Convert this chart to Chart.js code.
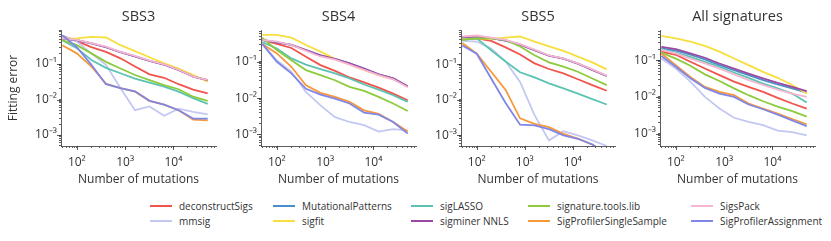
<!DOCTYPE html>
<html>
<head>
<meta charset="utf-8">
<script src="https://cdn.jsdelivr.net/npm/chart.js@4.4.1/dist/chart.umd.min.js"></script>
<style>
  body { margin: 0; background: #fff; }
  #wrap { position: relative; width: 831px; height: 241px; font-family: 'Open Sans', sans-serif; color: #333; }
  canvas { position: absolute; top: 0; }
  .lg-line { position: absolute; width: 22px; height: 1.6px; }
  .lg-text { position: absolute; font-size: 10px; line-height: 14px; white-space: nowrap; }
</style>
</head>
<body>
<div id="wrap"></div>
<script>
// number of mutations per sample (x values)
const mutations = [50, 100, 200, 400, 800, 1600, 3200, 6400, 12800, 25600, 51200];

const methods = ['deconstructSigs', 'mmsig', 'MutationalPatterns', 'sigfit', 'sigLASSO',
  'sigminer NNLS', 'signature.tools.lib', 'SigProfilerSingleSample', 'SigsPack', 'SigProfilerAssignment'];

const panelTitles = ['SBS3', 'SBS4', 'SBS5', 'All signatures'];

// fitting error, one row per method (same order as methods)
const sbs3Error = [
  [0.62, 0.44, 0.30, 0.22, 0.145, 0.085, 0.051, 0.041, 0.027, 0.019, 0.015],
  [0.62, 0.43, 0.20, 0.095, 0.021, 0.005, 0.0064, 0.0035, 0.0055, 0.0045, 0.0038],
  [0.52, 0.47, 0.38, 0.30, 0.215, 0.165, 0.122, 0.096, 0.068, 0.044, 0.035],
  [0.51, 0.53, 0.58, 0.56, 0.34, 0.23, 0.155, 0.104, 0.074, 0.049, 0.032],
  [0.47, 0.28, 0.13, 0.078, 0.055, 0.039, 0.030, 0.023, 0.0166, 0.011, 0.0075],
  [0.52, 0.47, 0.38, 0.30, 0.215, 0.165, 0.122, 0.096, 0.068, 0.044, 0.035],
  [0.47, 0.34, 0.20, 0.115, 0.075, 0.049, 0.035, 0.0255, 0.0195, 0.012, 0.0092],
  [0.34, 0.20, 0.085, 0.028, 0.021, 0.0166, 0.0092, 0.0072, 0.005, 0.0027, 0.0026],
  [0.53, 0.48, 0.39, 0.31, 0.22, 0.17, 0.125, 0.098, 0.069, 0.044, 0.036],
  [0.65, 0.30, 0.095, 0.027, 0.021, 0.017, 0.0092, 0.0072, 0.005, 0.0029, 0.0029]
];

const sbs4Error = [
  [0.40, 0.31, 0.24, 0.137, 0.081, 0.056, 0.037, 0.027, 0.0195, 0.0133, 0.0087],
  [0.31, 0.11, 0.053, 0.0148, 0.0063, 0.003, 0.0022, 0.0018, 0.0012, 0.0014, 0.0013],
  [0.40, 0.34, 0.29, 0.21, 0.15, 0.12, 0.09, 0.065, 0.045, 0.035, 0.021],
  [0.55, 0.55, 0.46, 0.29, 0.19, 0.12, 0.084, 0.059, 0.043, 0.033, 0.021],
  [0.35, 0.23, 0.124, 0.084, 0.063, 0.048, 0.035, 0.0237, 0.0172, 0.012, 0.0079],
  [0.40, 0.34, 0.29, 0.21, 0.15, 0.12, 0.09, 0.065, 0.045, 0.035, 0.021],
  [0.46, 0.21, 0.11, 0.059, 0.043, 0.031, 0.0204, 0.0158, 0.0108, 0.0071, 0.0044],
  [0.31, 0.17, 0.073, 0.0226, 0.014, 0.0108, 0.0079, 0.0046, 0.0037, 0.0022, 0.0012],
  [0.40, 0.36, 0.29, 0.20, 0.14, 0.115, 0.084, 0.060, 0.043, 0.033, 0.020],
  [0.31, 0.10, 0.048, 0.018, 0.0125, 0.0097, 0.0071, 0.004, 0.0035, 0.0022, 0.00105]
];

const sbs5Error = [
  [0.52, 0.54, 0.46, 0.30, 0.19, 0.107, 0.074, 0.056, 0.038, 0.026, 0.018],
  [0.46, 0.44, 0.28, 0.12, 0.032, 0.0037, 0.00072, 0.0013, 0.001, 0.00072, 0.0005],
  [0.58, 0.62, 0.55, 0.47, 0.36, 0.25, 0.175, 0.145, 0.105, 0.070, 0.047],
  [0.52, 0.54, 0.52, 0.57, 0.61, 0.44, 0.32, 0.24, 0.165, 0.114, 0.072],
  [0.49, 0.54, 0.25, 0.12, 0.06, 0.043, 0.029, 0.021, 0.015, 0.0105, 0.0074],
  [0.58, 0.62, 0.55, 0.47, 0.36, 0.25, 0.175, 0.145, 0.105, 0.070, 0.047],
  [0.49, 0.54, 0.54, 0.49, 0.32, 0.18, 0.114, 0.086, 0.062, 0.040, 0.026],
  [0.40, 0.20, 0.062, 0.019, 0.003, 0.0021, 0.0017, 0.0011, 0.00081, 0.00055, 0.0003],
  [0.61, 0.65, 0.57, 0.49, 0.37, 0.26, 0.18, 0.148, 0.107, 0.072, 0.048],
  [0.34, 0.20, 0.04, 0.0082, 0.002, 0.0019, 0.0015, 0.001, 0.0008, 0.00055, 0.0003]
];

const allError = [
  [0.17, 0.14, 0.09, 0.059, 0.039, 0.026, 0.0187, 0.0137, 0.0094, 0.0066, 0.0048],
  [0.11, 0.059, 0.026, 0.01, 0.0048, 0.0027, 0.0021, 0.0017, 0.0012, 0.0011, 0.0009],
  [0.21, 0.18, 0.14, 0.105, 0.073, 0.053, 0.039, 0.0285, 0.0217, 0.017, 0.013],
  [0.46, 0.39, 0.32, 0.245, 0.17, 0.111, 0.073, 0.048, 0.033, 0.021, 0.0123],
  [0.20, 0.16, 0.123, 0.09, 0.066, 0.046, 0.033, 0.023, 0.017, 0.0123, 0.007],
  [0.23, 0.20, 0.152, 0.116, 0.081, 0.059, 0.043, 0.032, 0.024, 0.0187, 0.0143],
  [0.16, 0.11, 0.07, 0.041, 0.027, 0.017, 0.0111, 0.0076, 0.0054, 0.0041, 0.0029],
  [0.152, 0.073, 0.035, 0.0187, 0.0137, 0.0111, 0.0066, 0.0048, 0.0035, 0.0025, 0.0018],
  [0.19, 0.152, 0.11, 0.081, 0.059, 0.041, 0.0285, 0.021, 0.0158, 0.0123, 0.010],
  [0.13, 0.066, 0.032, 0.0176, 0.0123, 0.010, 0.0062, 0.0046, 0.0033, 0.0023, 0.0016]
];

const panelErrors = [sbs3Error, sbs4Error, sbs5Error, allError];

// axis limits (log)
const xLimits = [47, 76000];
const yLimits = [[0.00049, 0.91], [0.00048, 0.75], [0.0005, 0.93], [0.00046, 0.66]];

// styles
const colors = ['#f0544c', '#c3c8f2', '#4a8ec9', '#f7df3e', '#5cc3b2',
  '#9b4aa3', '#8ccb3c', '#f7993a', '#f5b6d3', '#7f86e6'];
const FONT = "'Open Sans', sans-serif";
const INK = '#333';
const plotLeft = [61, 261, 461, 660];
const plotWidth = [155, 155, 154, 155];
const rightPad = 10;

const supMap = { '-': '\u207B', '0': '\u2070', '1': '\u00B9', '2': '\u00B2', '3': '\u00B3',
  '4': '\u2074', '5': '\u2075', '6': '\u2076', '7': '\u2077', '8': '\u2078', '9': '\u2079' };

function isPow10(v) {
  const e = Math.round(Math.log10(v));
  return Math.abs(v / Math.pow(10, e) - 1) < 1e-6;
}
function powLabel(v) {
  if (!isPow10(v)) return '';
  const e = String(Math.round(Math.log10(v)));
  return '10' + e.split('').map(c => supMap[c]).join('');
}
function logTicks(min, max, e0, e1) {
  const out = [];
  for (let e = e0; e <= e1; e++) {
    for (let m = 1; m <= 9; m++) {
      const v = +(m * Math.pow(10, e)).toPrecision(6);
      if (v >= min && v <= max) out.push({ value: v });
    }
  }
  return out;
}

// longer marks for the powers of ten
const majorTicks = {
  id: 'majorTicks',
  afterDraw(chart) {
    const { ctx, chartArea, scales } = chart;
    ctx.save();
    ctx.strokeStyle = INK;
    ctx.lineWidth = 0.8;
    ctx.beginPath();
    scales.x.ticks.forEach(t => {
      if (!isPow10(t.value)) return;
      const px = Math.round(scales.x.getPixelForValue(t.value)) + 0.5;
      ctx.moveTo(px, chartArea.bottom);
      ctx.lineTo(px, chartArea.bottom + 4);
    });
    scales.y.ticks.forEach(t => {
      if (!isPow10(t.value)) return;
      const py = Math.round(scales.y.getPixelForValue(t.value)) + 0.5;
      ctx.moveTo(chartArea.left, py);
      ctx.lineTo(chartArea.left - 4, py);
    });
    ctx.stroke();
    ctx.restore();
  }
};

const wrap = document.getElementById('wrap');

panelErrors.forEach((errs, p) => {
  const yw = p === 0 ? 61 : 40;
  const canvas = document.createElement('canvas');
  canvas.width = yw + plotWidth[p] + rightPad;
  canvas.height = 190;
  canvas.style.left = (plotLeft[p] - yw) + 'px';
  wrap.appendChild(canvas);

  const datasets = errs.map((vals, i) => ({
    label: methods[i],
    data: vals.map((v, k) => ({ x: mutations[k], y: v })),
    borderColor: colors[i],
    borderWidth: 1.8,
    pointRadius: 0,
    tension: 0,
    fill: false,
    order: -i
  }));

  new Chart(canvas, {
    type: 'line',
    data: { datasets },
    options: {
      responsive: false,
      animation: false,
      events: [],
      layout: { padding: { right: rightPad, left: 0, top: 0, bottom: 0 } },
      plugins: {
        legend: { display: false },
        tooltip: { enabled: false },
        title: {
          display: true,
          text: panelTitles[p],
          color: INK,
          fullSize: false,
          font: { family: FONT, size: 14.5, weight: 'normal' },
          padding: { top: 8, bottom: 4.6 }
        }
      },
      scales: {
        x: {
          type: 'logarithmic',
          min: xLimits[0],
          max: xLimits[1],
          afterFit: s => { s.height = 44; },
          afterBuildTicks: s => { s.ticks = logTicks(xLimits[0], xLimits[1], 1, 4); },
          grid: { drawOnChartArea: false, drawTicks: true, tickLength: 2, tickColor: INK, tickWidth: 0.8 },
          border: { display: true, color: INK, width: 0.8 },
          ticks: {
            autoSkip: false, maxRotation: 0, padding: 7, color: INK,
            font: { family: FONT, size: 12 },
            callback: v => powLabel(v)
          },
          title: {
            display: true, text: 'Number of mutations', color: INK,
            font: { family: FONT, size: 12 },
            padding: { top: 0, bottom: 2.8 }
          }
        },
        y: {
          type: 'logarithmic',
          min: yLimits[p][0],
          max: yLimits[p][1],
          afterFit: s => { s.width = yw; },
          afterBuildTicks: s => { s.ticks = logTicks(yLimits[p][0], yLimits[p][1], -4, -1); },
          grid: { drawOnChartArea: false, drawTicks: true, tickLength: 2, tickColor: INK, tickWidth: 0.8 },
          border: { display: true, color: INK, width: 0.8 },
          ticks: {
            autoSkip: false, padding: 2, color: INK,
            font: { family: FONT, size: 12 },
            callback: v => powLabel(v)
          },
          title: {
            display: p === 0, text: 'Fitting error', color: INK,
            font: { family: FONT, size: 12 },
            padding: { top: 6, bottom: 0 }
          }
        }
      }
    },
    plugins: [majorTicks]
  });
});

// legend: 5 columns x 2 rows, filled column by column
const legendLineX = [150, 273, 411, 528, 691];
const legendRowY = [206, 221];
methods.forEach((name, i) => {
  const col = Math.floor(i / 2), row = i % 2;
  const line = document.createElement('div');
  line.className = 'lg-line';
  line.style.left = legendLineX[col] + 'px';
  line.style.top = (legendRowY[row] - 0.8) + 'px';
  line.style.background = colors[i];
  wrap.appendChild(line);
  const txt = document.createElement('div');
  txt.className = 'lg-text';
  txt.style.left = (legendLineX[col] + 29) + 'px';
  txt.style.top = (legendRowY[row] - 7.5) + 'px';
  txt.textContent = name;
  wrap.appendChild(txt);
});
</script>
</body>
</html>
